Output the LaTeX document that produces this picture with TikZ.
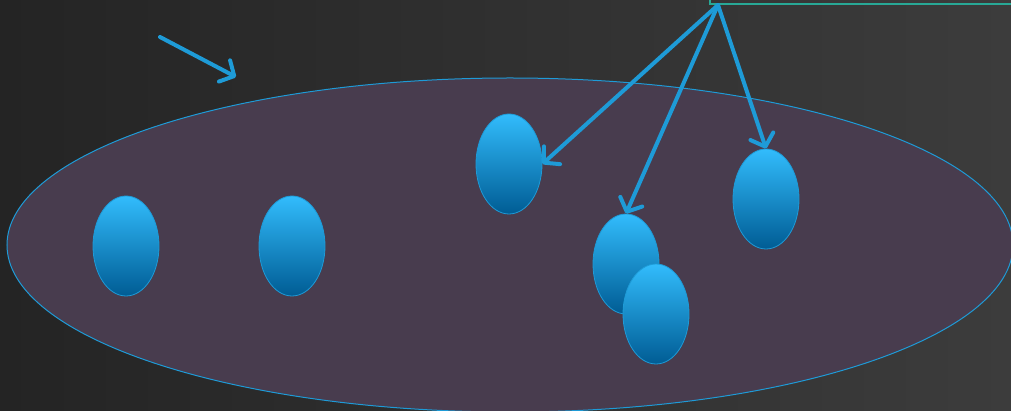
\documentclass[tikz,border=0pt]{standalone}
\usetikzlibrary{shapes.geometric,arrows.meta}
\definecolor{bgdark}{RGB}{36,36,36}
\definecolor{bglight}{RGB}{60,60,60}
\definecolor{poolfill}{RGB}{72,60,78}
\definecolor{skyline}{RGB}{30,155,215}
\definecolor{balltop}{RGB}{50,188,252}
\definecolor{ballmid}{RGB}{0,162,236}
\definecolor{ballbot}{RGB}{0,92,148}
\definecolor{boxline}{RGB}{40,168,150}

\begin{document}
\begin{tikzpicture}[
  x=1pt, y=-1pt,
  pool/.style={ellipse, draw=skyline, line width=1pt, fill=poolfill,
    minimum width=1006pt, minimum height=334pt, inner sep=0pt},
  ball/.style={ellipse, draw=skyline, line width=0.8pt,
    top color=balltop, middle color=ballmid, bottom color=ballbot,
    minimum width=66pt, minimum height=100pt, inner sep=0pt},
  infobox/.style={draw=boxline, line width=2pt, rectangle,
    minimum width=330pt, minimum height=40pt, inner sep=0pt},
  arr/.style={draw=skyline, line width=4pt, line cap=round, line join=round,
    -{Straight Barb[length=11pt,width=24pt,round]}},
]
\useasboundingbox (0,0) rectangle (1011,411);
\clip (0,0) rectangle (1011,411);
% background
\shade[left color=bgdark, right color=bglight] (0,0) rectangle (1011,411);
% the pool and its members
\node[pool] (pool) at (510,245) {};
\node[ball] (b1) at (126,246) {};
\node[ball] (b2) at (292,246) {};
\node[ball] (b3) at (509,164) {};
\node[ball] (b4) at (626,264) {};
\node[ball] (b5) at (656,314) {};
\node[ball] (b6) at (766,199) {};
% box in the corner
\node[infobox, anchor=south west] (info) at (709,5) {};
\coordinate (src) at (718,5);
\coordinate (inA) at (160,37);
\coordinate (inB) at (236,77);
% arrows
\draw[arr] (inA) -- (inB);
\draw[arr] (src) -- (b3.east);
\draw[arr] (src) -- (b4.north);
\draw[arr] (src) -- (b6.north);
\end{tikzpicture}
\end{document}
